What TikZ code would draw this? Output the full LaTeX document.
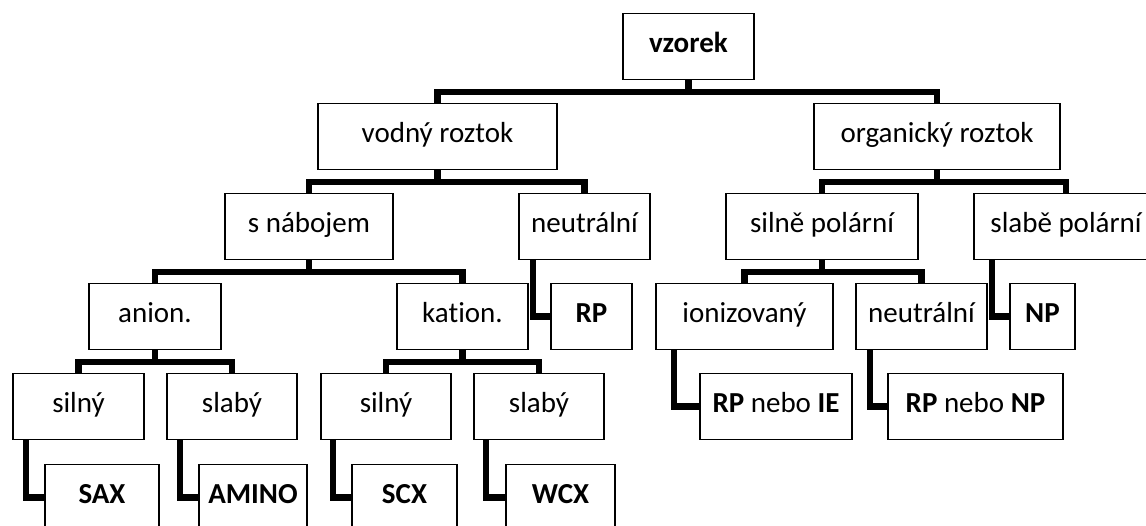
\documentclass[tikz,border=0pt]{standalone}
\usepackage{fontspec}
\setmainfont[Ligatures=NoCommon]{Carlito}
\begin{document}
\begin{tikzpicture}[x=1pt,y=-1pt,
  box/.style={draw=black, line width=1.8pt, fill=white, rectangle, inner sep=0pt,
    minimum height=66pt, text height=18pt, text depth=6pt, align=center,
    font=\fontsize{29}{34}\selectfont},
  conn/.style={draw=black, line width=6.5pt}
]
\useasboundingbox (0,0) rectangle (1146,526);
\clip (0,0) rectangle (1146,526);
% level centres: 46.5, 136.5, 226.5, 316.5, 406.5, 497.5
\node[box, minimum width=131pt] (vzorek) at (688.5,46.5) {\textbf{vzorek}};
\node[box, minimum width=239pt] (vodny) at (437.5,136.5) {vodný roztok};
\node[box, minimum width=246pt] (org) at (937,136.5) {organický roztok};
\node[box, minimum width=168pt] (snab) at (309,226.5) {s nábojem};
\node[box, minimum width=131pt] (neutA) at (584.5,226.5) {neutrální};
\node[box, minimum width=192pt] (silneP) at (822,226.5) {silně polární};
\node[box, minimum width=184pt] (slabeP) at (1066,226.5) {slabě polární};
\node[box, minimum width=132pt] (anion) at (155,316.5) {anion.};
\node[box, minimum width=131pt] (kation) at (462.5,316.5) {kation.};
\node[box, minimum width=81pt] (RP) at (591.5,316.5) {\textbf{RP}};
\node[box, minimum width=177pt] (ioniz) at (744.5,316.5) {ionizovaný};
\node[box, minimum width=131pt] (neutB) at (921.5,316.5) {neutrální};
\node[box, minimum width=65pt] (NP) at (1042.5,316.5) {\textbf{NP}};
\node[box, minimum width=131pt] (silnyA) at (78.5,406.5) {silný};
\node[box, minimum width=130pt] (slabyA) at (232,406.5) {slabý};
\node[box, minimum width=130pt] (silnyB) at (386,406.5) {silný};
\node[box, minimum width=130pt] (slabyB) at (539,406.5) {slabý};
\node[box, minimum width=152pt] (RPIE) at (776,406.5) {\textbf{RP} nebo \textbf{IE}};
\node[box, minimum width=175pt] (RPNP) at (975.5,406.5) {\textbf{RP} nebo \textbf{NP}};
\node[box, minimum width=114pt] (SAX) at (102,497.5) {\textbf{SAX}};
\node[box, minimum width=108pt] (AMINO) at (253,497.5) {\textbf{AMINO}};
\node[box, minimum width=105pt] (SCX) at (404.5,497.5) {\textbf{SCX}};
\node[box, minimum width=109pt] (WCX) at (560.5,497.5) {\textbf{WCX}};
% tree connectors
\foreach \p/\a/\b in {vzorek/vodny/org, vodny/snab/neutA, org/silneP/slabeP,
  snab/anion/kation, anion/silnyA/slabyA, kation/silnyB/slabyB, silneP/ioniz/neutB}{
  \draw[conn] (\a.north) |- ([yshift=-11.5pt]\p.south) -| (\b.north);
  \draw[conn] (\p.south) -- ([yshift=-11.5pt]\p.south);
}
% elbow connectors
\foreach \p/\c/\s in {silnyA/SAX/14, slabyA/AMINO/14, silnyB/SCX/13, slabyB/WCX/13,
  neutA/RP/15, ioniz/RPIE/19, neutB/RPNP/15, slabeP/NP/19}{
  \draw[conn] ([xshift=\s pt]\p.south west) |- (\c.west);
}
\end{tikzpicture}
\end{document}
